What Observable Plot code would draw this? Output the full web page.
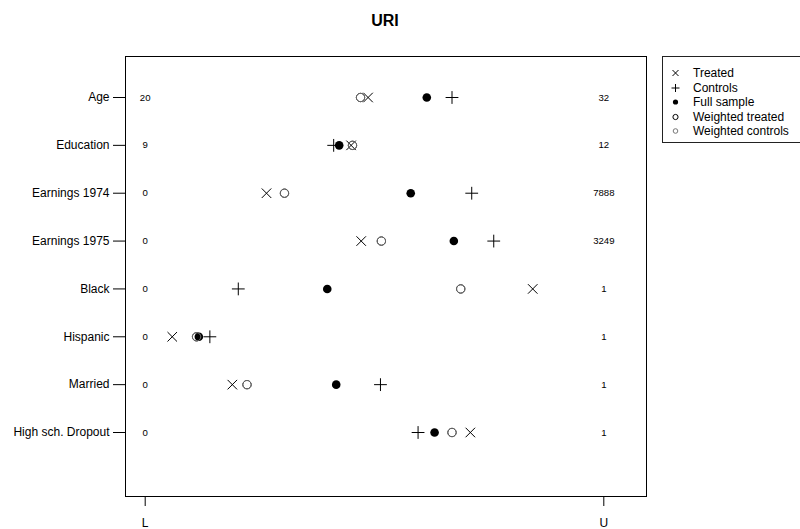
<!DOCTYPE html>
<html>
<head>
<meta charset="utf-8">
<script src="https://cdn.jsdelivr.net/npm/d3@7"></script>
<script src="https://cdn.jsdelivr.net/npm/@observablehq/plot@0.6"></script>
<style>
  html, body { margin: 0; padding: 0; background: white; }
  #wrap { position: relative; width: 800px; height: 529px; overflow: hidden; font-family: "Liberation Sans", Arial, Helvetica, sans-serif; }
  #title { position: absolute; left: 285px; width: 200px; top: 12px; text-align: center; font-weight: bold; font-size: 16px; }
  #legend { position: absolute; left: 662px; top: 56px; width: 150px; height: 87px; border: 1px solid #222; box-sizing: border-box; }
  .entry { position: absolute; left: 6px; height: 14px; font-size: 12px; line-height: 14px; white-space: nowrap; }
  .entry svg { position: absolute; left: 0; top: 0; }
  .entry span { position: absolute; left: 24px; top: 0; }
  #chart svg { display: block; }
</style>
</head>
<body>
<div id="wrap">
  <div id="chart"></div>
  <div id="title">URI</div>
  <div id="legend"></div>
</div>
<script>
const categories = ["Age", "Education", "Earnings 1974", "Earnings 1975", "Black", "Hispanic", "Married", "High sch. Dropout"];
// positions between lower bound (L = 0) and upper bound (U = 1)
const treated          = [0.486, 0.449, 0.2645, 0.471, 0.845, 0.059, 0.190, 0.709];
const controls         = [0.669, 0.411, 0.712, 0.760, 0.203, 0.141, 0.513, 0.595];
const fullSample       = [0.614, 0.423, 0.579, 0.673, 0.397, 0.117, 0.4165, 0.631];
const weightedTreated  = [0.4695, 0.452, 0.3037, 0.515, 0.688, 0.112, 0.222, 0.669];
const weightedControls = [0.4695, 0.452, 0.3037, 0.515, 0.688, 0.112, 0.222, 0.669];
const lowerBounds = ["20", "9", "0", "0", "0", "0", "0", "0"];
const upperBounds = ["32", "12", "7888", "3249", "1", "1", "1", "1"];
const xTickLabels = ["L", "U"];
const legendLabels = ["Treated", "Controls", "Full sample", "Weighted treated", "Weighted controls"];

const rows = categories.map((c, i) => ({
  category: c,
  treated: treated[i],
  controls: controls[i],
  full: fullSample[i],
  wt: weightedTreated[i],
  wc: weightedControls[i],
  lower: lowerBounds[i],
  upper: upperBounds[i]
}));

const chart = Plot.plot({
  width: 800,
  height: 529,
  marginLeft: 125,
  marginRight: 154,
  marginTop: 56,
  marginBottom: 33,
  style: { fontFamily: "'Liberation Sans', Arial, Helvetica, sans-serif", fontSize: "12px", background: "white", color: "black", overflow: "visible" },
  x: { domain: [0, 1], range: [144.7, 603.3] },
  y: { type: "point", domain: categories, range: [97, 432], padding: 0, round: false },
  marks: [
    Plot.frame({ stroke: "black", strokeWidth: 1 }),
    Plot.axisX({ ticks: [0, 1], tickFormat: d => xTickLabels[d], tickSize: 10, tickPadding: 12, label: null, fontSize: 12 }),
    Plot.axisY({ tickSize: 12, tickPadding: 4, label: null, fontSize: 12 }),
    Plot.text(rows, { x: () => 0, y: "category", text: "lower", fontSize: 9.6, fill: "black" }),
    Plot.text(rows, { x: () => 1, y: "category", text: "upper", fontSize: 9.6, fill: "black" }),
    Plot.dot(rows, { x: "controls", y: "category", symbol: "plus", r: 4.2, stroke: "black", strokeWidth: 1 }),
    Plot.dot(rows, { x: "treated", y: "category", symbol: "times", r: 4.4, stroke: "black", strokeWidth: 1 }),
    Plot.dot(rows, { x: "full", y: "category", r: 4.3, fill: "black", stroke: "none" }),
    Plot.dot(rows, { x: "wt", y: "category", r: 4.2, fill: "none", stroke: "#333", strokeWidth: 1 }),
    Plot.dot(rows, { x: "wc", y: "category", r: 4.2, fill: "none", stroke: "#666", strokeWidth: 1 })
  ]
});
document.getElementById("chart").appendChild(chart);

// legend
const legend = document.getElementById("legend");
const symbolsSvg = [
  '<line x1="3.5" y1="4" x2="9.5" y2="10" stroke="black"/><line x1="3.5" y1="10" x2="9.5" y2="4" stroke="black"/>',
  '<line x1="2.5" y1="7" x2="10.5" y2="7" stroke="black"/><line x1="6.5" y1="3" x2="6.5" y2="11" stroke="black"/>',
  '<circle cx="6.5" cy="7" r="2.6" fill="black"/>',
  '<circle cx="6.5" cy="7" r="2.6" fill="none" stroke="black"/>',
  '<circle cx="6.5" cy="7" r="2.3" fill="none" stroke="#777"/>'
];
const legendY = [66, 80.5, 95, 109.5, 124];
legendLabels.forEach((lab, i) => {
  const e = document.createElement("div");
  e.className = "entry";
  e.style.top = (legendY[i] - 56 - 1) + "px";
  e.innerHTML = '<svg width="14" height="14">' + symbolsSvg[i] + '</svg><span>' + lab + '</span>';
  legend.appendChild(e);
});
</script>
</body>
</html>
